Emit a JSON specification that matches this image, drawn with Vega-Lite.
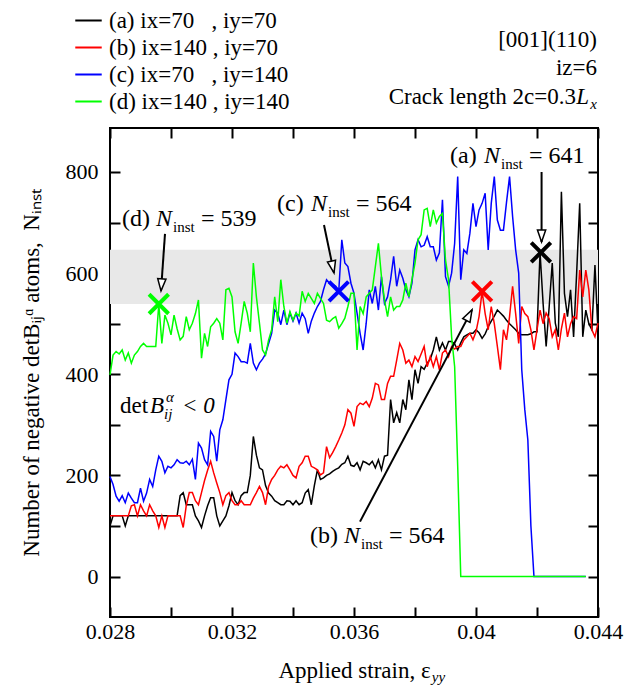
{
  "$schema": "https://vega.github.io/schema/vega-lite/v6.json",
  "width": 488,
  "height": 489,
  "autosize": {"type": "none"},
  "padding": {"left": 110, "top": 128, "right": 35, "bottom": 73},
  "background": "white",
  "config": {
    "font": "'Liberation Serif', 'Times New Roman', serif",
    "text": {"font": "'Liberation Serif', 'Times New Roman', serif"},
    "view": {"stroke": "black", "strokeWidth": 2},
    "axis": {
      "domain": false, "grid": false,
      "tickColor": "black", "tickWidth": 2, "tickSize": -10,
      "labelFont": "'Liberation Serif', 'Times New Roman', serif", "labelFontSize": 22, "labelColor": "black", "labelPadding": 14,
      "labelFlush": false, "labelOverlap": false,
      "titleFont": "'Liberation Serif', 'Times New Roman', serif", "titleFontSize": 23, "titleFontWeight": "normal", "titleColor": "black"
    },
    "legend": {"labelFont": "'Liberation Serif', 'Times New Roman', serif"}
  },
  "datasets": {
    "curves": [
      {"x":0.028,"a":100,"b":120,"c":198,"d":399},
      {"x":0.0281,"a":120,"b":120,"c":182,"d":438},
      {"x":0.0282,"a":120,"b":120,"c":159,"d":445},
      {"x":0.0283,"a":120,"b":120,"c":149,"d":440},
      {"x":0.0284,"a":120,"b":120,"c":160,"d":448},
      {"x":0.0285,"a":100,"b":120,"c":146,"d":428},
      {"x":0.0286,"a":120,"b":120,"c":165,"d":442},
      {"x":0.0287,"a":120,"b":140,"c":155,"d":422},
      {"x":0.0288,"a":120,"b":142,"c":146,"d":438},
      {"x":0.0289,"a":120,"b":120,"c":146,"d":445},
      {"x":0.029,"a":120,"b":142,"c":175,"d":455},
      {"x":0.0291,"a":120,"b":130,"c":149,"d":461},
      {"x":0.0292,"a":120,"b":120,"c":165,"d":455},
      {"x":0.0293,"a":120,"b":142,"c":192,"d":455},
      {"x":0.0294,"a":120,"b":130,"c":178,"d":455},
      {"x":0.0295,"a":120,"b":120,"c":211,"d":455},
      {"x":0.0296,"a":120,"b":97,"c":238,"d":539},
      {"x":0.0297,"a":120,"b":120,"c":228,"d":461},
      {"x":0.0298,"a":120,"b":97,"c":205,"d":517},
      {"x":0.0299,"a":120,"b":120,"c":218,"d":501},
      {"x":0.03,"a":120,"b":120,"c":215,"d":478},
      {"x":0.0301,"a":120,"b":120,"c":221,"d":517},
      {"x":0.0302,"a":120,"b":120,"c":231,"d":490},
      {"x":0.0303,"a":160,"b":120,"c":225,"d":468},
      {"x":0.0304,"a":166,"b":97,"c":224,"d":475},
      {"x":0.0305,"a":142,"b":140,"c":228,"d":514},
      {"x":0.0306,"a":142,"b":166,"c":221,"d":488},
      {"x":0.0307,"a":142,"b":166,"c":232,"d":501},
      {"x":0.0308,"a":120,"b":150,"c":192,"d":520},
      {"x":0.0309,"a":110,"b":142,"c":264,"d":547},
      {"x":0.031,"a":97,"b":166,"c":254,"d":432},
      {"x":0.0311,"a":120,"b":190,"c":231,"d":481},
      {"x":0.0312,"a":140,"b":210,"c":221,"d":455},
      {"x":0.0313,"a":156,"b":228,"c":287,"d":494},
      {"x":0.0314,"a":156,"b":205,"c":277,"d":501},
      {"x":0.0315,"a":120,"b":185,"c":228,"d":510},
      {"x":0.0316,"a":100,"b":166,"c":290,"d":501},
      {"x":0.0317,"a":110,"b":142,"c":310,"d":468},
      {"x":0.0318,"a":120,"b":160,"c":350,"d":567},
      {"x":0.0319,"a":140,"b":166,"c":389,"d":570},
      {"x":0.032,"a":166,"b":150,"c":400,"d":553},
      {"x":0.0321,"a":150,"b":142,"c":442,"d":484},
      {"x":0.0322,"a":142,"b":142,"c":435,"d":461},
      {"x":0.0323,"a":160,"b":150,"c":425,"d":501},
      {"x":0.0324,"a":166,"b":142,"c":425,"d":544},
      {"x":0.0325,"a":166,"b":142,"c":422,"d":521},
      {"x":0.0326,"a":200,"b":142,"c":461,"d":484},
      {"x":0.0327,"a":277,"b":155,"c":422,"d":620},
      {"x":0.0328,"a":240,"b":166,"c":409,"d":553},
      {"x":0.0329,"a":215,"b":178,"c":422,"d":501},
      {"x":0.033,"a":211,"b":166,"c":430,"d":448},
      {"x":0.0331,"a":180,"b":142,"c":440,"d":438},
      {"x":0.0332,"a":165,"b":178,"c":461,"d":468},
      {"x":0.0333,"a":159,"b":192,"c":481,"d":488},
      {"x":0.0334,"a":150,"b":200,"c":527,"d":553},
      {"x":0.0335,"a":146,"b":211,"c":521,"d":504},
      {"x":0.0336,"a":142,"b":218,"c":498,"d":587},
      {"x":0.0337,"a":142,"b":215,"c":527,"d":534},
      {"x":0.0338,"a":150,"b":221,"c":498,"d":501},
      {"x":0.0339,"a":149,"b":211,"c":521,"d":524},
      {"x":0.034,"a":142,"b":200,"c":505,"d":507},
      {"x":0.0341,"a":150,"b":195,"c":521,"d":521},
      {"x":0.0342,"a":142,"b":218,"c":501,"d":515},
      {"x":0.0343,"a":146,"b":225,"c":521,"d":564},
      {"x":0.0344,"a":165,"b":238,"c":510,"d":544},
      {"x":0.0345,"a":172,"b":238,"c":481,"d":560},
      {"x":0.0346,"a":142,"b":218,"c":505,"d":550},
      {"x":0.0347,"a":180,"b":215,"c":521,"d":540},
      {"x":0.0348,"a":211,"b":211,"c":534,"d":560},
      {"x":0.0349,"a":192,"b":201,"c":544,"d":550},
      {"x":0.035,"a":195,"b":205,"c":567,"d":540},
      {"x":0.0351,"a":200,"b":257,"c":587,"d":507},
      {"x":0.0352,"a":203,"b":235,"c":580,"d":504},
      {"x":0.0353,"a":208,"b":245,"c":578,"d":510},
      {"x":0.0354,"a":212,"b":257,"c":574,"d":514},
      {"x":0.0355,"a":215,"b":270,"c":564,"d":491},
      {"x":0.0356,"a":222,"b":284,"c":666,"d":500},
      {"x":0.0357,"a":225,"b":300,"c":620,"d":511},
      {"x":0.0358,"a":238,"b":330,"c":613,"d":534},
      {"x":0.0359,"a":220,"b":323,"c":580,"d":560},
      {"x":0.036,"a":218,"b":297,"c":560,"d":560},
      {"x":0.0361,"a":225,"b":336,"c":521,"d":448},
      {"x":0.0362,"a":211,"b":343,"c":481,"d":534},
      {"x":0.0363,"a":228,"b":340,"c":448,"d":520},
      {"x":0.0364,"a":225,"b":346,"c":501,"d":553},
      {"x":0.0365,"a":221,"b":336,"c":567,"d":560},
      {"x":0.0366,"a":228,"b":353,"c":540,"d":567},
      {"x":0.0367,"a":215,"b":382,"c":574,"d":613},
      {"x":0.0368,"a":231,"b":379,"c":527,"d":659},
      {"x":0.0369,"a":211,"b":350,"c":593,"d":593},
      {"x":0.037,"a":238,"b":350,"c":540,"d":547},
      {"x":0.0371,"a":240,"b":382,"c":553,"d":514},
      {"x":0.0372,"a":350,"b":396,"c":587,"d":553},
      {"x":0.0373,"a":304,"b":396,"c":633,"d":527},
      {"x":0.0374,"a":324,"b":428,"c":574,"d":534},
      {"x":0.0375,"a":304,"b":461,"c":606,"d":534},
      {"x":0.0376,"a":350,"b":448,"c":590,"d":547},
      {"x":0.0377,"a":330,"b":422,"c":567,"d":580},
      {"x":0.0378,"a":389,"b":428,"c":553,"d":553},
      {"x":0.0379,"a":350,"b":415,"c":580,"d":587},
      {"x":0.038,"a":409,"b":435,"c":646,"d":620},
      {"x":0.0381,"a":382,"b":425,"c":666,"d":666},
      {"x":0.0382,"a":415,"b":440,"c":652,"d":676},
      {"x":0.0383,"a":410,"b":455,"c":655,"d":725},
      {"x":0.0384,"a":422,"b":415,"c":672,"d":728},
      {"x":0.0385,"a":430,"b":435,"c":652,"d":692},
      {"x":0.0386,"a":448,"b":415,"c":652,"d":725},
      {"x":0.0387,"a":474,"b":435,"c":626,"d":699},
      {"x":0.0388,"a":448,"b":409,"c":640,"d":712},
      {"x":0.0389,"a":462,"b":442,"c":745,"d":718},
      {"x":0.039,"a":448,"b":448,"c":593,"d":626},
      {"x":0.0391,"a":465,"b":435,"c":574,"d":587},
      {"x":0.0392,"a":465,"b":455,"c":600,"d":474},
      {"x":0.0393,"a":460,"b":450,"c":659,"d":415},
      {"x":0.0394,"a":448,"b":455,"c":791,"d":218},
      {"x":0.0395,"a":462,"b":455,"c":587,"d":0},
      {"x":0.0396,"a":474,"b":468,"c":646,"d":0},
      {"x":0.0397,"a":478,"b":474,"c":639,"d":0},
      {"x":0.0398,"a":481,"b":481,"c":679,"d":0},
      {"x":0.0399,"a":481,"b":468,"c":738,"d":0},
      {"x":0.04,"a":488,"b":484,"c":692,"d":0},
      {"x":0.0401,"a":482,"b":514,"c":725,"d":0},
      {"x":0.0402,"a":471,"b":564,"c":738,"d":0},
      {"x":0.0403,"a":480,"b":520,"c":758,"d":0},
      {"x":0.0404,"a":494,"b":488,"c":646,"d":0},
      {"x":0.0405,"a":505,"b":534,"c":738,"d":0},
      {"x":0.0406,"a":515,"b":500,"c":791,"d":0},
      {"x":0.0407,"a":527,"b":455,"c":705,"d":0},
      {"x":0.0408,"a":521,"b":409,"c":685,"d":0},
      {"x":0.0409,"a":515,"b":488,"c":685,"d":0},
      {"x":0.041,"a":507,"b":468,"c":740,"d":0},
      {"x":0.0411,"a":500,"b":514,"c":791,"d":0},
      {"x":0.0412,"a":494,"b":574,"c":712,"d":0},
      {"x":0.0413,"a":488,"b":520,"c":646,"d":0},
      {"x":0.0414,"a":481,"b":461,"c":600,"d":0},
      {"x":0.0415,"a":478,"b":534,"c":409,"d":0},
      {"x":0.0416,"a":478,"b":520,"c":330,"d":0},
      {"x":0.0417,"a":478,"b":514,"c":270,"d":0},
      {"x":0.0418,"a":480,"b":488,"c":100,"d":0},
      {"x":0.0419,"a":484,"b":448,"c":0,"d":0},
      {"x":0.042,"a":484,"b":488,"c":0,"d":0},
      {"x":0.0421,"a":641,"b":527,"c":0,"d":0},
      {"x":0.0422,"a":540,"b":500,"c":0,"d":0},
      {"x":0.0423,"a":455,"b":521,"c":0,"d":0},
      {"x":0.0424,"a":534,"b":510,"c":0,"d":0},
      {"x":0.0425,"a":620,"b":474,"c":0,"d":0},
      {"x":0.0426,"a":501,"b":488,"c":0,"d":0},
      {"x":0.0427,"a":474,"b":448,"c":0,"d":0},
      {"x":0.0428,"a":761,"b":490,"c":0,"d":0},
      {"x":0.0429,"a":560,"b":521,"c":0,"d":0},
      {"x":0.043,"a":514,"b":474,"c":0,"d":0},
      {"x":0.0431,"a":567,"b":500,"c":0,"d":0},
      {"x":0.0432,"a":474,"b":514,"c":0,"d":0},
      {"x":0.0433,"a":600,"b":510,"c":0,"d":0},
      {"x":0.0434,"a":738,"b":606,"c":0,"d":0},
      {"x":0.0435,"a":474,"b":553,"c":0,"d":0},
      {"x":0.0436,"a":527,"b":606,"c":0,"d":0},
      {"x":0.0437,"a":500,"b":567,"c":null,"d":null},
      {"x":0.0438,"a":488,"b":488,"c":null,"d":null},
      {"x":0.0439,"a":616,"b":474,"c":null,"d":null},
      {"x":0.044,"a":484,"b":501,"c":null,"d":null}
    ]
  },
  "resolve": {"axis": {"x": "independent", "y": "independent"}},
  "layer": [
    {
      "data": {"values": [{"x1": 0.028, "x2": 0.044, "y1": 539, "y2": 646}]},
      "mark": {"type": "rect", "color": "#e8e8e8"},
      "encoding": {
        "x": {"field": "x1", "type": "quantitative", "scale": {"domain": [0.028, 0.044], "nice": false, "zero": false},
              "axis": {"orient": "top", "values": [0.028,0.03,0.032,0.034,0.036,0.038,0.04,0.042,0.044], "labels": false, "title": null}},
        "x2": {"field": "x2"},
        "y": {"field": "y1", "type": "quantitative", "scale": {"domain": [-80, 887], "nice": false, "zero": false},
              "axis": {"orient": "right", "values": [0,100,200,300,400,500,600,700,800], "labels": false, "title": null}},
        "y2": {"field": "y2"}
      }
    },
    {
      "data": {"name": "curves"},
      "transform": [{"fold": ["a", "b", "c", "d"], "as": ["s", "v"]}],
      "mark": {"type": "line", "strokeWidth": 1.5},
      "encoding": {
        "x": {"field": "x", "type": "quantitative", "scale": {"domain": [0.028, 0.044], "nice": false, "zero": false},
              "axis": {"orient": "bottom", "values": [0.028,0.03,0.032,0.034,0.036,0.038,0.04,0.042,0.044],
                       "labelExpr": "round(datum.value*1000) % 4 == 0 ? format(datum.value, '~r') : ''",
                       "title": "Applied strain, ε", "titlePadding": 17}},
        "y": {"field": "v", "type": "quantitative", "scale": {"domain": [-80, 887], "nice": false, "zero": false},
              "axis": {"orient": "left", "values": [0,100,200,300,400,500,600,700,800], "labelPadding": 22,
                       "labelExpr": "datum.value % 200 == 0 ? datum.label : ''",
                       "title": "Number of negative detB\u1d62\u2c7c\u1d45 atoms,\u00a0\u00a0N\u1d62\u2099\u209b\u209c", "titlePadding": 22}},
        "color": {"field": "s", "type": "nominal",
                  "scale": {"domain": ["a", "b", "c", "d"], "range": ["#000000", "#ff0000", "#0000ff", "#00ff00"]},
                  "legend": {"orient": "none", "legendX": -36, "legendY": -122, "title": null,
                             "symbolType": "stroke", "symbolStrokeWidth": 2, "symbolSize": 700,
                             "labelFontSize": 23, "labelColor": "black", "labelOffset": 6, "rowPadding": 0, "labelLimit": 400,
                             "labelExpr": "datum.label == 'a' ? '(a) ix=70\u00a0\u00a0\u00a0, iy=70' : datum.label == 'b' ? '(b) ix=140\u00a0, iy=70' : datum.label == 'c' ? '(c) ix=70\u00a0\u00a0\u00a0, iy=140' : '(d) ix=140\u00a0, iy=140'"}}
      }
    },
    {
      "data": {"values": [
        {"s": "a", "x": 0.04213, "y": 641},
        {"s": "b", "x": 0.0402, "y": 564},
        {"s": "c", "x": 0.0355, "y": 564},
        {"s": "d", "x": 0.0296, "y": 539}
      ]},
      "mark": {"type": "point", "shape": "M-1,-1L1,1M-1,1L1,-1", "filled": false, "strokeWidth": 4, "size": 380, "opacity": 1},
      "encoding": {
        "x": {"field": "x", "type": "quantitative", "scale": {"domain": [0.028, 0.044], "nice": false, "zero": false}, "axis": null},
        "y": {"field": "y", "type": "quantitative", "scale": {"domain": [-80, 887], "nice": false, "zero": false}, "axis": null},
        "color": {"field": "s", "type": "nominal", "scale": {"domain": ["a", "b", "c", "d"], "range": ["#000000", "#ff0000", "#0000ff", "#00ff00"]}, "legend": null}
      }
    },
    {
      "data": {"name": "arrows", "values": [
        {"x1": 0.029803, "y1": 677.5, "x2": 0.029672, "y2": 564.9, "ang": 4},
        {"x1": 0.035016, "y1": 695.3, "x2": 0.035344, "y2": 600.5, "ang": 348},
        {"x1": 0.04215, "y1": 800, "x2": 0.04215, "y2": 661.7, "ang": 0},
        {"x1": 0.036197, "y1": 108.6, "x2": 0.039869, "y2": 527.4, "ang": 208}
      ]},
      "mark": {"type": "rule", "color": "black", "strokeWidth": 2},
      "encoding": {
        "x": {"field": "x1", "type": "quantitative", "scale": {"domain": [0.028, 0.044], "nice": false, "zero": false}, "axis": null},
        "y": {"field": "y1", "type": "quantitative", "scale": {"domain": [-80, 887], "nice": false, "zero": false}, "axis": null},
        "x2": {"field": "x2"},
        "y2": {"field": "y2"}
      }
    },
    {
      "data": {"name": "arrows"},
      "mark": {"type": "point", "shape": "M0,0L-0.55,-1.6L0.55,-1.6Z", "filled": true, "fill": "white", "stroke": "black", "strokeWidth": 1.5, "size": 225, "opacity": 1},
      "encoding": {
        "x": {"field": "x2", "type": "quantitative", "scale": {"domain": [0.028, 0.044], "nice": false, "zero": false}, "axis": null},
        "y": {"field": "y2", "type": "quantitative", "scale": {"domain": [-80, 887], "nice": false, "zero": false}, "axis": null},
        "angle": {"field": "ang", "type": "quantitative", "scale": null}
      }
    },
    {
      "data": {"name": "notes", "values": [
        {"lab": "(d)", "val": "= 539", "x": 0.028394, "y": 693},
        {"lab": "(c)", "val": "= 564", "x": 0.033475, "y": 723},
        {"lab": "(a)", "val": "= 641", "x": 0.039148, "y": 818},
        {"lab": "(b)", "val": "= 564", "x": 0.034557, "y": 67}
      ]},
      "mark": {"type": "text", "align": "left", "baseline": "alphabetic", "fontSize": 24, "color": "black"},
      "encoding": {
        "x": {"field": "x", "type": "quantitative", "scale": {"domain": [0.028, 0.044], "nice": false, "zero": false}, "axis": null},
        "y": {"field": "y", "type": "quantitative", "scale": {"domain": [-80, 887], "nice": false, "zero": false}, "axis": null},
        "text": {"field": "lab"}
      }
    },
    {
      "data": {"name": "notes"},
      "mark": {"type": "text", "align": "left", "baseline": "alphabetic", "fontSize": 24, "fontStyle": "italic", "color": "black", "dx": 34},
      "encoding": {
        "x": {"field": "x", "type": "quantitative", "scale": {"domain": [0.028, 0.044], "nice": false, "zero": false}, "axis": null},
        "y": {"field": "y", "type": "quantitative", "scale": {"domain": [-80, 887], "nice": false, "zero": false}, "axis": null},
        "text": {"value": "N"}
      }
    },
    {
      "data": {"name": "notes"},
      "mark": {"type": "text", "align": "left", "baseline": "alphabetic", "fontSize": 15, "color": "black", "dx": 51, "dy": 6},
      "encoding": {
        "x": {"field": "x", "type": "quantitative", "scale": {"domain": [0.028, 0.044], "nice": false, "zero": false}, "axis": null},
        "y": {"field": "y", "type": "quantitative", "scale": {"domain": [-80, 887], "nice": false, "zero": false}, "axis": null},
        "text": {"value": "inst"}
      }
    },
    {
      "data": {"name": "notes"},
      "mark": {"type": "text", "align": "left", "baseline": "alphabetic", "fontSize": 24, "color": "black", "dx": 79},
      "encoding": {
        "x": {"field": "x", "type": "quantitative", "scale": {"domain": [0.028, 0.044], "nice": false, "zero": false}, "axis": null},
        "y": {"field": "y", "type": "quantitative", "scale": {"domain": [-80, 887], "nice": false, "zero": false}, "axis": null},
        "text": {"field": "val"}
      }
    },
    {
      "data": {"name": "det", "values": [{"x": 0.028328, "y": 324}]},
      "mark": {"type": "text", "align": "left", "baseline": "alphabetic", "fontSize": 23, "color": "black"},
      "encoding": {
        "x": {"field": "x", "type": "quantitative", "scale": {"domain": [0.028, 0.044], "nice": false, "zero": false}, "axis": null},
        "y": {"field": "y", "type": "quantitative", "scale": {"domain": [-80, 887], "nice": false, "zero": false}, "axis": null},
        "text": {"value": "det"}
      }
    },
    {
      "data": {"name": "det"},
      "mark": {"type": "text", "align": "left", "baseline": "alphabetic", "fontSize": 23, "fontStyle": "italic", "color": "black", "dx": 30},
      "encoding": {
        "x": {"field": "x", "type": "quantitative", "scale": {"domain": [0.028, 0.044], "nice": false, "zero": false}, "axis": null},
        "y": {"field": "y", "type": "quantitative", "scale": {"domain": [-80, 887], "nice": false, "zero": false}, "axis": null},
        "text": {"value": "B"}
      }
    },
    {
      "data": {"name": "det"},
      "mark": {"type": "text", "align": "left", "baseline": "alphabetic", "fontSize": 15, "fontStyle": "italic", "color": "black", "dx": 44, "dy": 6},
      "encoding": {
        "x": {"field": "x", "type": "quantitative", "scale": {"domain": [0.028, 0.044], "nice": false, "zero": false}, "axis": null},
        "y": {"field": "y", "type": "quantitative", "scale": {"domain": [-80, 887], "nice": false, "zero": false}, "axis": null},
        "text": {"value": "ij"}
      }
    },
    {
      "data": {"name": "det"},
      "mark": {"type": "text", "align": "left", "baseline": "alphabetic", "fontSize": 15, "fontStyle": "italic", "color": "black", "dx": 46, "dy": -11},
      "encoding": {
        "x": {"field": "x", "type": "quantitative", "scale": {"domain": [0.028, 0.044], "nice": false, "zero": false}, "axis": null},
        "y": {"field": "y", "type": "quantitative", "scale": {"domain": [-80, 887], "nice": false, "zero": false}, "axis": null},
        "text": {"value": "α"}
      }
    },
    {
      "data": {"name": "det"},
      "mark": {"type": "text", "align": "left", "baseline": "alphabetic", "fontSize": 23, "fontStyle": "italic", "color": "black", "dx": 62},
      "encoding": {
        "x": {"field": "x", "type": "quantitative", "scale": {"domain": [0.028, 0.044], "nice": false, "zero": false}, "axis": null},
        "y": {"field": "y", "type": "quantitative", "scale": {"domain": [-80, 887], "nice": false, "zero": false}, "axis": null},
        "text": {"value": "< 0"}
      }
    },
    {
      "data": {"values": [
        {"t": "[001](110)", "x": 0.043967, "y": 1047},
        {"t": "iz=6", "x": 0.043967, "y": 992}
      ]},
      "mark": {"type": "text", "align": "right", "baseline": "alphabetic", "fontSize": 23, "color": "black"},
      "encoding": {
        "x": {"field": "x", "type": "quantitative", "scale": {"domain": [0.028, 0.044], "nice": false, "zero": false}, "axis": null},
        "y": {"field": "y", "type": "quantitative", "scale": {"domain": [-80, 887], "nice": false, "zero": false}, "axis": null},
        "text": {"field": "t"}
      }
    },
    {
      "data": {"name": "crack", "values": [{"x": 0.043967, "y": 934}]},
      "mark": {"type": "text", "align": "right", "baseline": "alphabetic", "fontSize": 23, "color": "black", "dx": -21},
      "encoding": {
        "x": {"field": "x", "type": "quantitative", "scale": {"domain": [0.028, 0.044], "nice": false, "zero": false}, "axis": null},
        "y": {"field": "y", "type": "quantitative", "scale": {"domain": [-80, 887], "nice": false, "zero": false}, "axis": null},
        "text": {"value": "Crack length 2c=0.3"}
      }
    },
    {
      "data": {"name": "crack"},
      "mark": {"type": "text", "align": "right", "baseline": "alphabetic", "fontSize": 23, "fontStyle": "italic", "color": "black", "dx": -8},
      "encoding": {
        "x": {"field": "x", "type": "quantitative", "scale": {"domain": [0.028, 0.044], "nice": false, "zero": false}, "axis": null},
        "y": {"field": "y", "type": "quantitative", "scale": {"domain": [-80, 887], "nice": false, "zero": false}, "axis": null},
        "text": {"value": "L"}
      }
    },
    {
      "data": {"name": "crack"},
      "mark": {"type": "text", "align": "right", "baseline": "alphabetic", "fontSize": 15, "fontStyle": "italic", "color": "black", "dy": 5},
      "encoding": {
        "x": {"field": "x", "type": "quantitative", "scale": {"domain": [0.028, 0.044], "nice": false, "zero": false}, "axis": null},
        "y": {"field": "y", "type": "quantitative", "scale": {"domain": [-80, 887], "nice": false, "zero": false}, "axis": null},
        "text": {"value": "x"}
      }
    },
    {
      "data": {"values": [{"x": 0.03855, "y": -208}]},
      "mark": {"type": "text", "align": "left", "baseline": "alphabetic", "fontSize": 15, "fontStyle": "italic", "color": "black"},
      "encoding": {
        "x": {"field": "x", "type": "quantitative", "scale": {"domain": [0.028, 0.044], "nice": false, "zero": false}, "axis": null},
        "y": {"field": "y", "type": "quantitative", "scale": {"domain": [-80, 887], "nice": false, "zero": false}, "axis": null},
        "text": {"value": "yy"}
      }
    }
  ]
}
